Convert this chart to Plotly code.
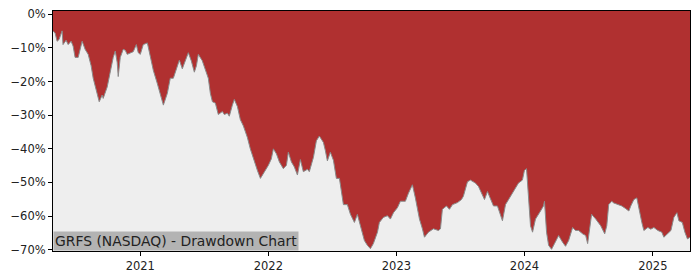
import pandas as pd
import plotly.graph_objects as go

# time as decimal years, drawdown in percent
t_years = [
    2020.320, 2020.336, 2020.352, 2020.367, 2020.391, 2020.398, 2020.422, 2020.438, 2020.461, 2020.477,
    2020.492, 2020.516, 2020.547, 2020.570, 2020.594, 2020.617, 2020.633, 2020.664, 2020.680, 2020.703,
    2020.711, 2020.742, 2020.766, 2020.789, 2020.805, 2020.820, 2020.828, 2020.844, 2020.867, 2020.883,
    2020.898, 2020.922, 2020.945, 2020.969, 2020.984, 2021.000, 2021.023, 2021.055, 2021.078, 2021.102,
    2021.133, 2021.156, 2021.180, 2021.211, 2021.234, 2021.258, 2021.289, 2021.305, 2021.328, 2021.352,
    2021.375, 2021.398, 2021.422, 2021.438, 2021.453, 2021.484, 2021.508, 2021.531, 2021.547, 2021.563,
    2021.586, 2021.609, 2021.641, 2021.656, 2021.680, 2021.695, 2021.719, 2021.734, 2021.758, 2021.781,
    2021.805, 2021.836, 2021.859, 2021.883, 2021.914, 2021.938, 2021.961, 2021.984, 2022.000, 2022.023,
    2022.039, 2022.063, 2022.086, 2022.117, 2022.141, 2022.156, 2022.180, 2022.203, 2022.227, 2022.250,
    2022.273, 2022.305, 2022.320, 2022.352, 2022.375, 2022.398, 2022.430, 2022.445, 2022.461, 2022.484,
    2022.508, 2022.531, 2022.555, 2022.586, 2022.617, 2022.641, 2022.672, 2022.695, 2022.727, 2022.750,
    2022.773, 2022.797, 2022.820, 2022.852, 2022.867, 2022.898, 2022.930, 2022.953, 2022.977, 2023.008,
    2023.031, 2023.070, 2023.094, 2023.125, 2023.148, 2023.180, 2023.203, 2023.219, 2023.250, 2023.289,
    2023.328, 2023.344, 2023.359, 2023.391, 2023.414, 2023.438, 2023.477, 2023.508, 2023.523, 2023.555,
    2023.578, 2023.617, 2023.641, 2023.672, 2023.688, 2023.711, 2023.734, 2023.758, 2023.789, 2023.813,
    2023.828, 2023.852, 2023.875, 2023.906, 2023.930, 2023.953, 2023.984, 2024.000, 2024.016, 2024.031,
    2024.047, 2024.063, 2024.086, 2024.125, 2024.148, 2024.156, 2024.172, 2024.188, 2024.211, 2024.234,
    2024.266, 2024.297, 2024.320, 2024.344, 2024.375, 2024.398, 2024.422, 2024.453, 2024.477, 2024.492,
    2024.523, 2024.555, 2024.594, 2024.625, 2024.641, 2024.656, 2024.680, 2024.695, 2024.727, 2024.758,
    2024.789, 2024.813, 2024.828, 2024.852, 2024.875, 2024.891, 2024.914, 2024.930, 2024.961, 2024.984,
    2025.008, 2025.039, 2025.070, 2025.086, 2025.117, 2025.141, 2025.164, 2025.188, 2025.203, 2025.230,
    2025.250, 2025.270, 2025.290,
]
drawdown_pct = [
    -5.0, -5.5, -8.0, -7.5, -4.9, -9.0, -7.7, -9.0, -8.0, -9.5,
    -12.8, -12.8, -8.0, -10.4, -11.9, -15.3, -19.0, -24.0, -26.0, -24.0,
    -25.0, -21.6, -16.7, -12.8, -10.9, -14.3, -18.5, -12.8, -10.4, -10.7,
    -11.9, -11.4, -11.1, -9.0, -11.4, -11.9, -9.0, -8.5, -12.8, -16.7,
    -20.6, -23.5, -27.0, -23.5, -19.0, -19.0, -15.3, -13.6, -16.2, -13.8,
    -11.4, -13.8, -17.2, -15.3, -11.9, -13.8, -16.2, -19.0, -23.5, -26.0,
    -26.4, -29.8, -28.9, -29.8, -29.4, -30.3, -27.0, -25.3, -27.4, -31.3,
    -33.2, -36.6, -40.0, -43.0, -46.4, -48.8, -47.3, -46.0, -44.9, -43.0,
    -40.0, -41.5, -43.9, -45.9, -44.9, -41.0, -43.9, -45.4, -47.8, -43.2,
    -46.8, -46.1, -46.8, -42.5, -37.6, -36.2, -38.1, -40.5, -43.6, -41.0,
    -43.4, -48.8, -48.8, -56.6, -56.6, -59.5, -61.9, -59.5, -64.3, -67.3,
    -68.7, -69.7, -68.2, -64.8, -61.9, -60.4, -59.9, -60.9, -59.0, -57.5,
    -55.6, -55.6, -53.2, -50.7, -54.6, -60.9, -63.8, -66.3, -64.8, -63.8,
    -64.3, -63.8, -58.0, -57.0, -58.0, -56.6, -56.0, -55.1, -54.1, -49.8,
    -49.3, -50.2, -51.2, -53.6, -55.1, -52.7, -54.6, -57.0, -57.0, -60.0,
    -61.4, -56.6, -55.1, -53.2, -51.7, -50.2, -49.3, -46.4, -45.9, -55.0,
    -62.9, -64.8, -60.9, -58.5, -57.0, -55.6, -64.8, -68.7, -69.9, -68.2,
    -65.8, -67.8, -69.0, -67.3, -63.4, -64.3, -64.3, -65.3, -65.8, -68.2,
    -59.5, -60.9, -62.9, -65.3, -62.9, -56.6, -55.6, -56.1, -56.6, -57.0,
    -57.8, -58.5, -57.0, -55.1, -54.6, -58.0, -61.9, -64.3, -63.4, -63.9,
    -63.4, -64.3, -64.8, -66.3, -65.3, -64.3, -60.4, -59.0, -61.4, -61.9,
    -64.8, -66.8, -66.3,
]
y_ticks = [0, -10, -20, -30, -40, -50, -60, -70]
x_tick_years = [2021, 2022, 2023, 2024, 2025]
label = "GRFS (NASDAQ) - Drawdown Chart"


def to_date(t):
    y = int(t // 1)
    start = pd.Timestamp(year=y, month=1, day=1)
    end = pd.Timestamp(year=y + 1, month=1, day=1)
    return start + (end - start) * (t - y)


dates = [to_date(t) for t in t_years]
floor = -90

RED = "#B03030"
GRAY_BG = "#EEEEEE"
FONT = "DejaVu Sans"

fig = go.Figure()
fig.add_trace(go.Scatter(x=dates, y=[floor] * len(dates), mode="lines",
                         line=dict(width=0, color=GRAY_BG), hoverinfo="skip",
                         showlegend=False))
fig.add_trace(go.Scatter(x=dates, y=drawdown_pct, mode="lines",
                         line=dict(width=1, color="#8a8a8a"),
                         fill="tonexty", fillcolor=GRAY_BG, showlegend=False))

fig.add_annotation(text=label, xref="paper", yref="paper", x=0, y=0,
                   xanchor="left", yanchor="bottom", showarrow=False,
                   bgcolor="#B3B3B3", borderpad=1,
                   font=dict(family=FONT, size=13.9, color="#222222"))

fig.update_layout(
    width=700, height=280,
    margin=dict(l=53, r=10, t=7, b=28),
    paper_bgcolor="white", plot_bgcolor=RED,
    font=dict(family=FONT, size=11.5, color="#222222"),
)
fig.update_xaxes(
    range=[dates[0], dates[-1]],
    tickvals=[pd.Timestamp(year=y, month=1, day=1) for y in x_tick_years],
    ticktext=[str(y) for y in x_tick_years],
    showgrid=False, zeroline=False,
    showline=True, linecolor="black", linewidth=1, mirror=True,
    ticks="outside", ticklen=4, tickcolor="black", tickwidth=1,
)
fig.update_yaxes(
    range=[-70.4, 1.0],
    tickvals=y_ticks,
    ticktext=[("\u2212" if v < 0 else "") + f"{abs(v)}%" for v in y_ticks],
    showgrid=False, zeroline=False,
    showline=True, linecolor="black", linewidth=1, mirror=True,
    ticks="outside", ticklen=4, tickcolor="black", tickwidth=1,
)

fig.write_html("out.html")
